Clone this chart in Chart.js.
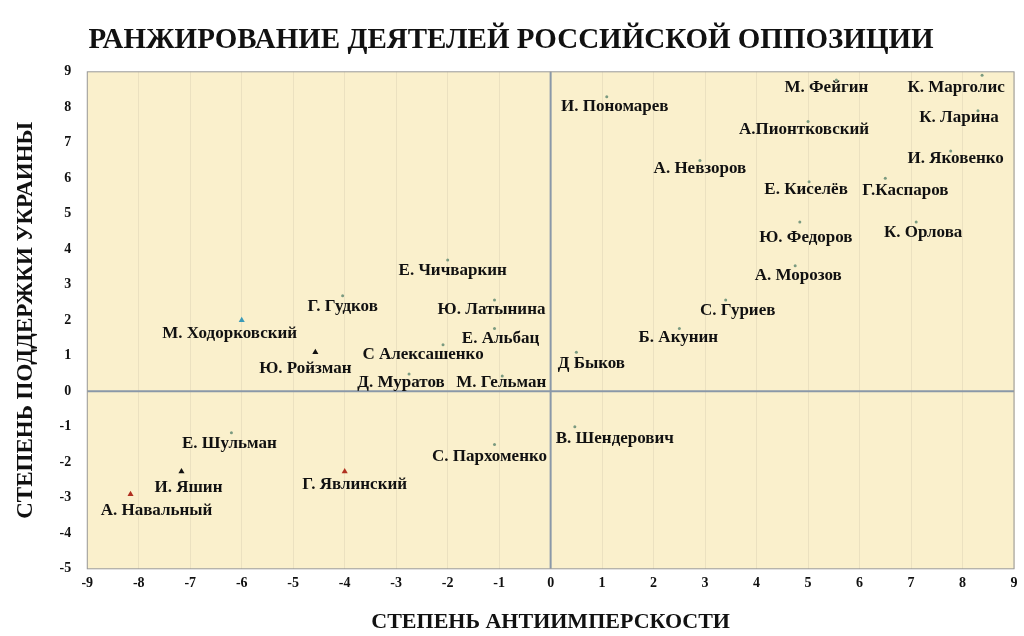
<!DOCTYPE html>
<html><head><meta charset="utf-8">
<script src="https://cdn.jsdelivr.net/npm/chart.js@4.4.0/dist/chart.umd.min.js"></script>
<style>html,body{margin:0;background:#fff}#w{width:1024px;height:636px}</style>
</head><body><div id="w"><canvas id="c"></canvas></div>
<script>
const names=["И. Пономарев","М. Фейгин","К. Марголис","А.Пионтковский","К. Ларина","А. Невзоров","И. Яковенко","Е. Киселёв","Г.Каспаров","Ю. Федоров","К. Орлова","А. Морозов","С. Гуриев","Б. Акунин","Д Быков","В. Шендерович","Е. Чичваркин","Г. Гудков","Ю. Латынина","М. Ходорковский","Е. Альбац","С Алексашенко","Ю. Ройзман","Д. Муратов","М. Гельман","Е. Шульман","С. Пархоменко","И. Яшин","Г. Явлинский","А. Навальный"];
const xVals=[1.09,5.55,8.38,5.0,8.3,2.9,7.77,5.02,6.5,4.84,7.1,4.75,3.4,2.5,0.5,0.47,-2.0,-4.04,-1.09,-6.0,-1.09,-2.09,-4.57,-2.75,-0.94,-6.2,-1.09,-7.17,-4.0,-8.16];
const yVals=[8.3,8.77,8.9,7.6,7.9,6.5,6.77,5.9,6.0,4.77,4.77,3.54,2.57,1.77,1.1,-1.0,3.7,2.69,2.57,2.0,1.77,1.31,1.1,0.49,0.43,-1.17,-1.5,-2.26,-2.26,-2.9];
const markerKind=["c","c","c","c","c","c","c","c","c","c","c","c","c","c","c","c","c","c","c","tb","c","c","tk","c","c","c","c","tk","tr","tr"];
const labelDx=[8,-10,-26,-4,-19,0,5,-3,20,6,7,3,12,-1,15,40,5,0,-3,-12,6,-20,-10,-8,-1,-2,-5,7,10,26];
const labelDy=[10,8,12,8,7,8,8,8,12,16,11,10,11,9,11,12,11,11,10,13,10,10,16,9,7,11,12,16,13,16];
const xTicks=[-9,-8,-7,-6,-5,-4,-3,-2,-1,0,1,2,3,4,5,6,7,8,9];
const yTicks=[-5,-4,-3,-2,-1,0,1,2,3,4,5,6,7,8,9];
const F="'Liberation Serif','DejaVu Serif',serif";
const colorMap={c:"#7a9a80",tb:"#3a9ab8",tk:"#111",tr:"#b03020"};
const bg={id:'bg',beforeDraw(ch){const a=ch.chartArea,g=ch.ctx;g.save();g.fillStyle='#faf0cc';g.fillRect(a.left,a.top,a.right-a.left,a.bottom-a.top);g.restore();},
afterDatasetsDraw(ch){const g=ch.ctx,a=ch.chartArea,xs=ch.scales.x,ys=ch.scales.y;g.save();
g.strokeStyle='#8a98a8';g.lineWidth=2;g.beginPath();const x0=xs.getPixelForValue(0),y0=ys.getPixelForValue(0);
g.moveTo(x0,a.top);g.lineTo(x0,a.bottom);g.moveTo(a.left,y0);g.lineTo(a.right,y0);g.stroke();
g.strokeStyle='#999';g.lineWidth=1;g.strokeRect(a.left,a.top,a.right-a.left,a.bottom-a.top);
g.font="bold 17px "+F;g.fillStyle='#111';g.textAlign='center';g.textBaseline='middle';
names.forEach((n,i)=>{g.fillText(n,xs.getPixelForValue(xVals[i])+labelDx[i],ys.getPixelForValue(yVals[i])+labelDy[i]);});
g.restore();}};
new Chart(document.getElementById('c'),{type:'scatter',
data:{datasets:[{data:xVals.map((x,i)=>({x,y:yVals[i]})),
pointStyle:markerKind.map(k=>k==='c'?'circle':'triangle'),
pointRadius:markerKind.map(k=>k==='c'?1.5:3.5),
backgroundColor:markerKind.map(k=>colorMap[k]),borderColor:markerKind.map(k=>colorMap[k]),borderWidth:0}]},
options:{responsive:true,maintainAspectRatio:false,animation:false,
layout:{padding:{left:8,right:10,top:0,bottom:0}},
plugins:{legend:{display:false},tooltip:{enabled:false},
title:{display:true,text:'РАНЖИРОВАНИЕ ДЕЯТЕЛЕЙ РОССИЙСКОЙ ОППОЗИЦИИ',color:'#111',font:{family:F,size:29,weight:'bold'},padding:{top:23,bottom:14}}},
scales:{x:{type:'linear',min:-9,max:9,afterBuildTicks:s=>{s.ticks=xTicks.map(v=>({value:v}))},
grid:{display:true,drawOnChartArea:true,color:'rgba(220,210,180,0.5)',drawTicks:false},border:{display:false},
ticks:{color:'#111',font:{family:F,size:14,weight:'bold'},padding:6},
title:{display:true,text:'СТЕПЕНЬ АНТИИМПЕРСКОСТИ',color:'#111',font:{family:F,size:22,weight:'bold'},padding:{top:12,bottom:0}}},
y:{type:'linear',min:-5,max:9,afterBuildTicks:s=>{s.ticks=yTicks.map(v=>({value:v}))},
grid:{display:false},border:{display:false},
ticks:{color:'#111',font:{family:F,size:14,weight:'bold'},padding:8},
title:{display:true,text:'СТЕПЕНЬ ПОДДЕРЖКИ УКРАИНЫ',color:'#111',font:{family:F,size:23,weight:'bold'},padding:{bottom:12}}}}},
plugins:[bg]});
</script></body></html>
